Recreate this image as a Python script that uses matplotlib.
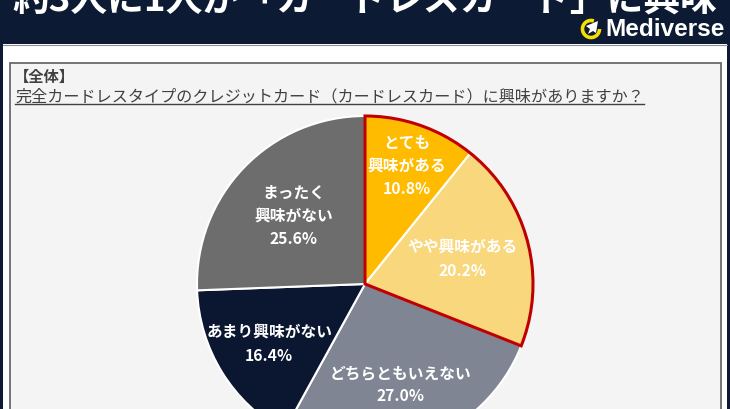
import matplotlib
matplotlib.use("Agg")
import matplotlib.pyplot as plt
from matplotlib.patches import Rectangle, Wedge, Arc, Polygon
import numpy as np

# ---- data ----
categories = ["とても\n興味がある", "やや興味がある", "どちらともいえない", "あまり興味がない", "まったく\n興味がない"]
values = [10.8, 20.2, 27.0, 16.4, 25.6]
colors = ["#FFBB00", "#F9D77C", "#7F8592", "#0B1731", "#6D6D6D"]
title = "約3人に1人が「カードレスカード」に興味"
group_label = "【全体】"
question = "完全カードレスタイプのクレジットカード（カードレスカード）に興味がありますか？"
brand = "Mediverse"

# ---- style / layout ----
label_radius = [0.75, 0.60, 0.63, 0.67, 0.59]
W, H = 730, 410
NAVY = "#0C1A33"
JP = ["Noto Sans CJK JP", "DejaVu Sans"]
plt.rcParams["font.family"] = JP


def Y(p):
    return H - p


fig = plt.figure(figsize=(W / 100, H / 100), dpi=100, facecolor="white")
ax = fig.add_axes([0, 0, 1, 1])
ax.set_xlim(0, W)
ax.set_ylim(0, H)
ax.axis("off")

# frame
ax.add_patch(Rectangle((0, Y(45)), W, 45, facecolor=NAVY, edgecolor="none", zorder=1))
ax.add_patch(Rectangle((0, 0), 2.5, H, facecolor=NAVY, edgecolor="none", zorder=1))
ax.add_patch(Rectangle((727, 0), 3, H, facecolor=NAVY, edgecolor="none", zorder=1))
ax.plot([2.5, 727], [Y(45.5), Y(45.5)], color="#8a8f99", lw=0.8, zorder=1)

# content box
ax.add_patch(Rectangle((9.5, -5), 711.5, Y(63.5) + 5, facecolor="#F4F4F4",
                       edgecolor="#6a6a6a", lw=1.3, zorder=2))

# title (cut at the top edge as in the reference banner)
ax.text(365, Y(11.5), title, color="white", fontsize=26.5, fontweight="bold",
        ha="center", va="baseline", zorder=5)

# brand
ax.text(605, Y(29.5), brand, color="white", fontsize=17.6, fontweight="bold",
        family=["Liberation Sans", "DejaVu Sans"], ha="left", va="center", zorder=5)
ax.add_patch(Arc((591, Y(30)), 17, 17, theta1=70, theta2=360, color="#F5E000", lw=2.6, zorder=5))
ax.add_patch(Polygon([(598, Y(22)), (586, Y(27)), (590, Y(30)), (588, Y(35)), (593, Y(32)), (596, Y(34))],
                     closed=True, facecolor="white", edgecolor="none", zorder=5))

# texts in box
ax.text(14, Y(77), group_label, color="#404040", fontsize=11, fontweight="bold",
        ha="left", va="center", zorder=5)
qt = ax.text(15, Y(97), question, color="#404040", fontsize=11.6,
             ha="left", va="center", zorder=5)
fig.canvas.draw()
bb = qt.get_window_extent().transformed(ax.transData.inverted())
ax.plot([bb.x0, bb.x1], [Y(105), Y(105)], color="#404040", lw=1.0, zorder=5)

# pie
cx, cy, R = 365, Y(285), 168
wedges, _ = ax.pie(values, colors=colors, startangle=90, counterclock=False,
                   center=(cx, cy), radius=R, frame=True,
                   wedgeprops=dict(edgecolor="white", linewidth=1.5))
for w in wedges:
    w.set_zorder(3)

# red outline around the "interested" group (first two slices)
top_share = values[0] + values[1]
total = sum(values)
ax.add_patch(Wedge((cx, cy), R, 90 - 360 * top_share / total, 90, fill=False,
                   edgecolor="#C00000", lw=2.2, zorder=4, joinstyle="miter"))

# labels
cum = 0
for cat, v, rf in zip(categories, values, label_radius):
    mid = 90 - 360 * (cum + v / 2) / total
    cum += v
    tx = cx + rf * R * np.cos(np.radians(mid))
    ty = cy + rf * R * np.sin(np.radians(mid))
    ax.text(tx, ty, f"{cat}\n{v:.1f}%", color="white", fontsize=11.3, fontweight="bold",
            ha="center", va="center", linespacing=1.55, zorder=6)

ax.set_xlim(0, W)
ax.set_ylim(0, H)
ax.set_aspect("auto")
ax.axis("off")

fig.savefig("out.png", dpi=100, facecolor="white")
